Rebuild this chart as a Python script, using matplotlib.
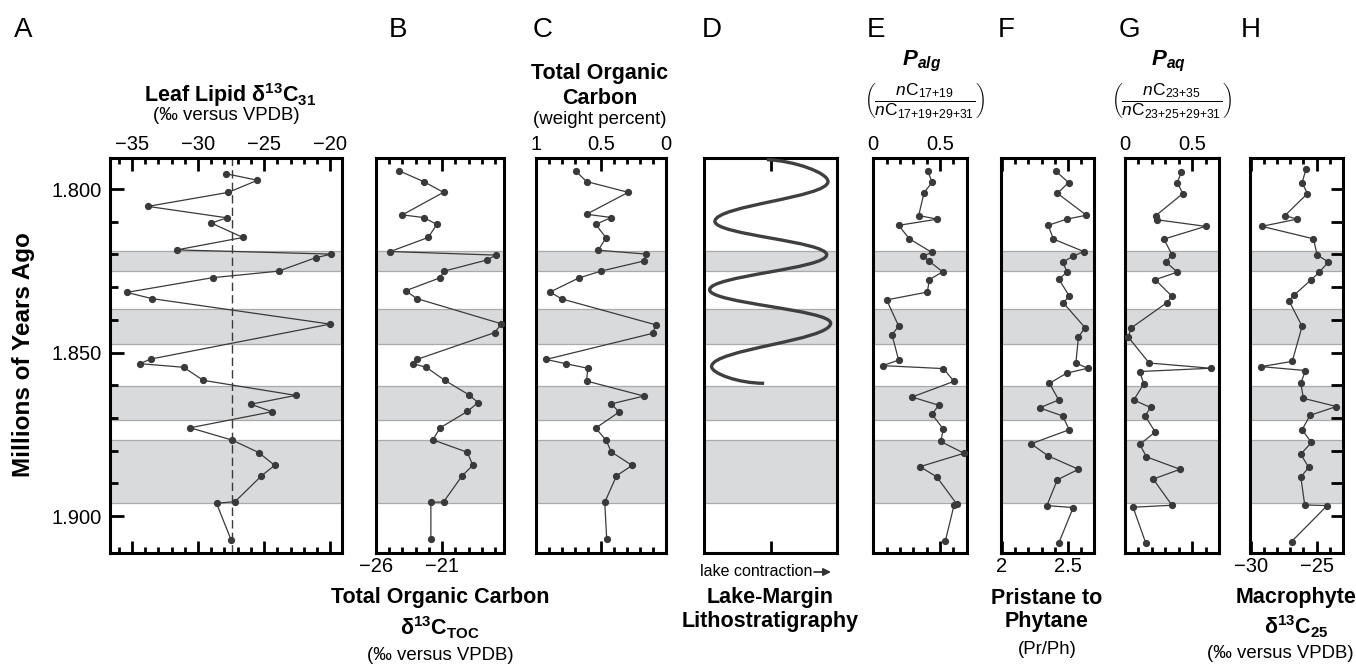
import matplotlib

matplotlib.use("Agg")
import matplotlib.pyplot as plt  # noqa: E402
import numpy as np
from matplotlib.patches import PathPatch
from matplotlib.path import Path
from matplotlib.ticker import FixedLocator

plt.rcParams["font.family"] = ["Liberation Sans", "DejaVu Sans"]
plt.rcParams["mathtext.fontset"] = "custom"
plt.rcParams["mathtext.rm"] = "Liberation Sans"
plt.rcParams["mathtext.it"] = "Liberation Sans:italic"
plt.rcParams["mathtext.bf"] = "Liberation Sans:bold"
plt.rcParams["mathtext.bfit"] = "Liberation Sans:italic:bold"

# ---- data (age in Ma) ----
band_top = [1.8190, 1.8368, 1.8601, 1.8768]
band_bottom = [1.8251, 1.8475, 1.8706, 1.8961]

leaf_age = [1.7953, 1.7973, 1.8010, 1.8053, 1.8088, 1.8104, 1.8148, 1.8186, 1.8199, 1.8210,
            1.8251, 1.8271, 1.8316, 1.8335, 1.8413, 1.8520, 1.8534, 1.8545, 1.8585, 1.8631,
            1.8658, 1.8681, 1.8730, 1.8768, 1.8806, 1.8845, 1.8877, 1.8956, 1.8961, 1.9073]
leaf_d13c = [-27.9, -25.5, -27.7, -33.8, -27.8, -29.0, -26.6, -31.6, -19.9, -21.1,
             -23.9, -28.9, -35.4, -33.5, -20.0, -33.6, -34.4, -31.1, -29.6, -22.6,
             -26.0, -24.4, -30.6, -27.4, -25.4, -24.2, -25.2, -27.2, -28.6, -27.5]
leaf_mean = -27.4

toc_d13c_age = [1.7944, 1.7977, 1.8010, 1.8079, 1.8087, 1.8108, 1.8148, 1.8191, 1.8202, 1.8217,
                1.8251, 1.8272, 1.8311, 1.8335, 1.8412, 1.8439, 1.8521, 1.8534, 1.8545, 1.8585,
                1.8629, 1.8653, 1.8680, 1.8730, 1.8767, 1.8805, 1.8845, 1.8877, 1.8957, 1.8958,
                1.9071]
toc_d13c = [-24.25, -22.4, -20.9, -24.0, -22.4, -21.4, -22.05, -24.9, -16.95, -17.65,
            -20.85, -21.2, -23.75, -22.9, -16.55, -17.05, -22.9, -23.2, -22.2, -20.8,
            -19.0, -18.3, -19.1, -21.15, -21.7, -19.1, -18.7, -19.5, -20.9, -21.85,
            -21.85]

toc_wt_age = [1.7946, 1.7977, 1.8010, 1.8077, 1.8087, 1.8108, 1.8149, 1.8187, 1.8199, 1.8220,
              1.8251, 1.8272, 1.8315, 1.8336, 1.8415, 1.8441, 1.8521, 1.8534, 1.8548, 1.8587,
              1.8633, 1.8657, 1.8682, 1.8731, 1.8768, 1.8804, 1.8845, 1.8877, 1.8958, 1.9071]
toc_wt = [0.69, 0.61, 0.29, 0.61, 0.42, 0.54, 0.46, 0.52, 0.15, 0.17,
          0.50, 0.67, 0.89, 0.80, 0.08, 0.10, 0.92, 0.77, 0.60, 0.61,
          0.17, 0.42, 0.36, 0.54, 0.46, 0.42, 0.26, 0.38, 0.47, 0.455]

lith_age = [1.7910, 1.7977, 1.8099, 1.8201, 1.8308, 1.8410, 1.8543, 1.8594]
lith_pos = [0.47, 0.93, 0.08, 0.92, 0.04, 0.95, 0.055, 0.45]

palg_age = [1.7946, 1.7979, 1.8012, 1.8081, 1.8092, 1.8111, 1.8152, 1.8194, 1.8204, 1.8221,
            1.8253, 1.8277, 1.8315, 1.8339, 1.8419, 1.8446, 1.8523, 1.8540, 1.8549, 1.8588,
            1.8636, 1.8661, 1.8689, 1.8734, 1.8772, 1.8808, 1.8849, 1.8880, 1.8963, 1.8967,
            1.9076]
palg = [0.41, 0.44, 0.38, 0.34, 0.48, 0.19, 0.27, 0.44, 0.375, 0.42,
        0.52, 0.42, 0.405, 0.10, 0.19, 0.14, 0.19, 0.07, 0.525, 0.605,
        0.29, 0.49, 0.44, 0.525, 0.505, 0.68, 0.35, 0.475, 0.625, 0.605,
        0.54]

prph_age = [1.7946, 1.7980, 1.8013, 1.8080, 1.8092, 1.8111, 1.8153, 1.8191, 1.8206, 1.8224,
            1.8254, 1.8275, 1.8327, 1.8348, 1.8424, 1.8452, 1.8532, 1.8548, 1.8563, 1.8594,
            1.8645, 1.8669, 1.8694, 1.8736, 1.8779, 1.8816, 1.8857, 1.8889, 1.8968, 1.8974,
            1.9083]
prph = [2.41, 2.505, 2.42, 2.64, 2.49, 2.35, 2.39, 2.62, 2.535, 2.46,
        2.495, 2.43, 2.51, 2.465, 2.63, 2.58, 2.56, 2.65, 2.49, 2.36,
        2.43, 2.285, 2.46, 2.51, 2.22, 2.35, 2.58, 2.42, 2.34, 2.54,
        2.43]

paq_age = [1.7947, 1.7980, 1.8014, 1.8081, 1.8094, 1.8114, 1.8153, 1.8201, 1.8223, 1.8254,
           1.8277, 1.8328, 1.8348, 1.8425, 1.8453, 1.8532, 1.8548, 1.8558, 1.8596, 1.8645,
           1.8668, 1.8694, 1.8743, 1.8781, 1.8819, 1.8857, 1.8887, 1.8967, 1.8973, 1.9083]
paq = [0.42, 0.39, 0.43, 0.23, 0.24, 0.60, 0.29, 0.35, 0.305, 0.39,
       0.225, 0.35, 0.31, 0.045, 0.025, 0.18, 0.64, 0.11, 0.14, 0.065,
       0.19, 0.15, 0.225, 0.11, 0.16, 0.41, 0.21, 0.35, 0.06, 0.155]

macro_age = [1.7939, 1.7980, 1.8014, 1.8081, 1.8092, 1.8114, 1.8152, 1.8202, 1.8223, 1.8254,
             1.8277, 1.8324, 1.8341, 1.8420, 1.8527, 1.8543, 1.8555, 1.8594, 1.8640, 1.8665,
             1.8692, 1.8736, 1.8775, 1.8811, 1.8851, 1.8881, 1.8966, 1.8968, 1.9078]
macro_d13c = [-25.8, -26.1, -25.7, -27.4, -26.5, -29.15, -25.25, -24.95, -24.1, -24.8,
              -25.4, -26.7, -27.1, -26.1, -26.85, -29.2, -25.85, -26.2, -26.0, -23.5,
              -25.5, -26.1, -25.4, -26.2, -25.6, -26.2, -25.9, -24.2, -26.9]

# ---- style ----
W, H = 1356, 665
TOP_PX, BOT_PX = 158, 553
AGE_TOP, AGE_BOT = 1.7905, 1.9113
LINE = "#3a3a3a"
BAND = "#d9dadc"
BAND_EDGE = "#a9aaac"
TICK_FS = 14.5

fig = plt.figure(figsize=(W / 100, H / 100), dpi=100)


def fxy(x, y):
    return x / W, 1 - y / H


def panel(x0, x1, xlim, major, minor, labels, where):
    ax = fig.add_axes([x0 / W, 1 - BOT_PX / H, (x1 - x0) / W, (BOT_PX - TOP_PX) / H])
    ax.set_xlim(*xlim)
    ax.set_ylim(AGE_BOT, AGE_TOP)
    for b0, b1 in zip(band_top, band_bottom):
        ax.axhspan(b0, b1, facecolor=BAND, edgecolor=BAND_EDGE, lw=0.9, zorder=0)
    ax.xaxis.set_major_locator(FixedLocator(major))
    ax.xaxis.set_minor_locator(FixedLocator(minor))
    ax.set_xticklabels(labels)
    ax.tick_params(axis="x", which="both", direction="in", top=True, bottom=True,
                   width=2, color="black", labelsize=TICK_FS, pad=3,
                   labeltop=(where == "top"), labelbottom=(where == "bottom"))
    ax.tick_params(axis="x", which="major", length=9)
    ax.tick_params(axis="x", which="minor", length=4.5)
    ax.set_yticks([])
    for s in ax.spines.values():
        s.set_linewidth(2.2)
    return ax


def series(ax, x, age):
    ax.plot(x, age, "-o", color=LINE, lw=0.9, ms=4.2, zorder=3, clip_on=False)


# A: leaf lipid
ax = panel(110, 342, (-36.67, -19.1), [-35, -30, -25, -20], np.arange(-36, -19),
           ["\u221235", "\u221230", "\u221225", "\u221220"], "top")
ax.axvline(leaf_mean, color=LINE, lw=1.0, dashes=(6, 3), zorder=2)
series(ax, leaf_d13c, leaf_age)
ax.yaxis.set_major_locator(FixedLocator([1.80, 1.85, 1.90]))
ax.yaxis.set_minor_locator(FixedLocator(np.arange(1.81, 1.9, 0.01)))
ax.set_yticklabels(["1.800", "1.850", "1.900"])
ax.tick_params(axis="y", which="both", direction="in", left=True, right=False,
               width=2, labelsize=TICK_FS, pad=6)
ax.tick_params(axis="y", which="major", length=10)
ax.tick_params(axis="y", which="minor", length=6)

# B: TOC d13C
ax = panel(375.7, 504, (-26, -16.35), [-26, -21, -16], np.arange(-25, -16),
           ["\u221226", "\u221221", "\u221216"], "bottom")
series(ax, toc_d13c, toc_d13c_age)

# C: TOC weight percent
ax = panel(535.7, 666, (1, 0), [1, 0.5, 0], np.arange(0.1, 1.0, 0.1),
           ["1", "0.5", "0"], "top")
series(ax, toc_wt, toc_wt_age)

# D: lithostratigraphy
ax = panel(704.3, 837.3, (0, 1), [0.5], [], [""], "none")
verts = [(lith_pos[0], lith_age[0])]
codes = [Path.MOVETO]
n = len(lith_pos)
for i in range(n - 1):
    x0, y0, x1, y1 = lith_pos[i], lith_age[i], lith_pos[i + 1], lith_age[i + 1]
    dy = y1 - y0
    if i == 0:
        c1 = (x0 + 0.45 * (x1 - x0), y0 + 0.05 * dy)
    else:
        c1 = (x0, y0 + 0.4 * dy)
    if i == n - 2:
        c2 = (x1 - 0.5 * (x1 - x0), y1)
    else:
        c2 = (x1, y1 - 0.4 * dy)
    verts += [c1, c2, (x1, y1)]
    codes += [Path.CURVE4] * 3
ax.add_patch(PathPatch(Path(verts, codes), facecolor="none", edgecolor="#3f3f3f", lw=2.4, zorder=3))

# E: Palg
ax = panel(873.3, 966.7, (0, 0.7), [0, 0.5], np.arange(0.1, 0.7, 0.1), ["0", "0.5"], "top")
series(ax, palg, palg_age)

# F: Pr/Ph
ax = panel(1000.7, 1094.3, (1.99, 2.70), [2, 2.5], np.arange(2.1, 2.7, 0.1), ["2", "2.5"], "bottom")
series(ax, prph, prph_age)

# G: Paq
ax = panel(1125, 1219, (0, 0.7), [0, 0.5], np.arange(0.1, 0.7, 0.1), ["0", "0.5"], "top")
series(ax, paq, paq_age)

# H: macrophyte
ax = panel(1250, 1343, (-30.05, -23.0), [-30, -25], np.arange(-29, -23), ["\u221230", "\u221225"], "bottom")
series(ax, macro_d13c, macro_age)
ax.yaxis.set_major_locator(FixedLocator(np.arange(1.80, 1.905, 0.01)))
ax.tick_params(axis="y", which="both", direction="in", left=False, right=True,
               labelleft=False, width=2, length=9)

# ---- text ----
for letter, x in zip("ABCDEFGH", [23, 398, 543, 712, 876, 1006, 1129, 1251]):
    fig.text(*fxy(x, 30), letter, fontsize=20, ha="center", va="center")

fig.text(*fxy(24, 355), "Millions of Years Ago", fontsize=17.5, fontweight="bold",
         rotation=90, ha="center", va="center")

bold = dict(fontsize=15.5, fontweight="bold", ha="center", va="center")
small = dict(fontsize=13.4, ha="center", va="center")

fig.text(*fxy(230, 95), r"Leaf Lipid $\mathbf{\delta^{13}C_{31}}$", **bold)
fig.text(*fxy(226, 115), "(\u2030 versus VPDB)", **small)

fig.text(*fxy(600, 73), "Total Organic", **bold)
fig.text(*fxy(600, 98), "Carbon", **bold)
fig.text(*fxy(600, 120), "(weight percent)", **small)

fig.text(*fxy(922, 61), r"$\mathbfit{P}_{\mathbfit{alg}}$", fontsize=16, ha="center", va="center")
fig.text(*fxy(925, 101),
         r"$\left(\dfrac{n\mathrm{C}_{\mathrm{17{+}19}}}{n\mathrm{C}_{\mathrm{17{+}19{+}29{+}31}}}\right)$",
         fontsize=12.5, ha="center", va="center")
fig.text(*fxy(1168, 61), r"$\mathbfit{P}_{\mathbfit{aq}}$", fontsize=16, ha="center", va="center")
fig.text(*fxy(1172, 101),
         r"$\left(\dfrac{n\mathrm{C}_{\mathrm{23{+}35}}}{n\mathrm{C}_{\mathrm{23{+}25{+}29{+}31}}}\right)$",
         fontsize=12.5, ha="center", va="center")

fig.text(*fxy(440, 598), "Total Organic Carbon", **bold)
fig.text(*fxy(440, 628), r"$\mathbf{\delta^{13}C_{TOC}}$", **bold)
fig.text(*fxy(440, 655), "(\u2030 versus VPDB)", **small)

fig.text(*fxy(812, 572), "lake contraction", fontsize=11.5, ha="right", va="center")
fig.add_artist(plt.Annotation("", xy=fxy(831, 572), xytext=fxy(814, 572),
                              xycoords="figure fraction", textcoords="figure fraction",
                              arrowprops=dict(arrowstyle="-|>", color="#333333", lw=1.3,
                                              mutation_scale=11, shrinkA=0, shrinkB=0)))
fig.text(*fxy(770, 598), "Lake-Margin", **bold)
fig.text(*fxy(770, 622), "Lithostratigraphy", **bold)

fig.text(*fxy(1047, 598), "Pristane to", **bold)
fig.text(*fxy(1047, 622), "Phytane", **bold)
fig.text(*fxy(1047, 650), "(Pr/Ph)", **small)

fig.text(*fxy(1296, 598), "Macrophyte", **bold)
fig.text(*fxy(1296, 627), r"$\mathbf{\delta^{13}C_{25}}$", **bold)
fig.text(*fxy(1354, 653), "(\u2030 versus VPDB)", fontsize=13.4, ha="right", va="center")

fig.savefig("out.png", dpi=100)
